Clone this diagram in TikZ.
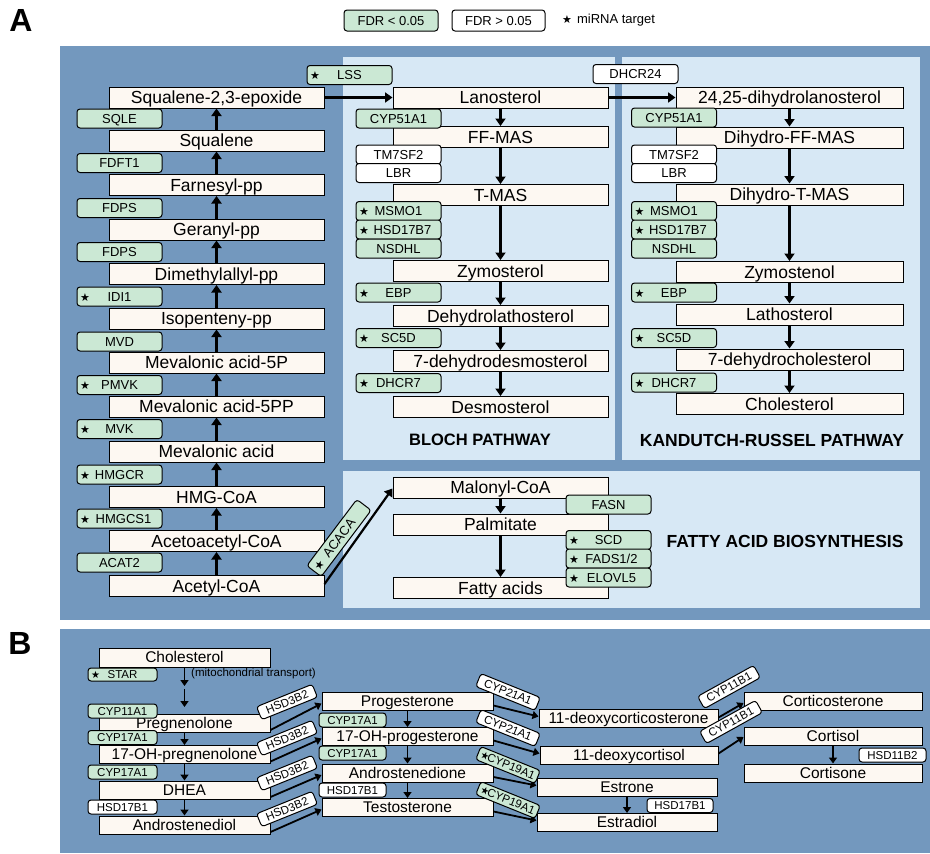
\documentclass[tikz,border=0pt]{standalone}
\usepackage{fontspec}
\setmainfont{Liberation Sans}
\newfontfamily\symfont{DejaVu Sans}
\usetikzlibrary{arrows.meta,calc}
\definecolor{darkbg}{HTML}{7398BE}
\definecolor{lightbg}{HTML}{D7E8F5}
\definecolor{cream}{HTML}{FDF8F2}
\definecolor{sig}{HTML}{CBE8D4}
\newcommand\stx[3][11]{\makebox[#2][l]{\hspace{2pt}{\symfont\fontsize{#1}{#1}\selectfont ★}}\llap{\makebox[#2][c]{#3}}}
\begin{document}
\begin{tikzpicture}[x=1pt,y=-1pt,
  met/.style={draw=black,line width=1pt,fill=cream,inner sep=0pt,minimum height=21pt,
    font=\fontsize{17.5}{17.5}\selectfont,text height=12.6pt,text depth=0.6pt},
  wA/.style={minimum width=215pt},
  wK/.style={minimum width=227pt},
  enz/.style={draw=black,line width=1pt,rounded corners=3pt,fill=sig,inner sep=0pt,
    minimum width=85pt,minimum height=19pt,font=\fontsize{13}{13}\selectfont,
    text height=9.4pt,text depth=0.4pt},
  enzw/.style={enz,fill=white},
  metB/.style={met,minimum height=18pt,minimum width=171pt,font=\fontsize{15.5}{15.5}\selectfont,
    text height=11.2pt,text depth=0.5pt},
  enzB/.style={enz,minimum width=68pt,minimum height=14pt,font=\fontsize{11.5}{11.5}\selectfont,
    text height=8.3pt,text depth=0.3pt},
  enzBw/.style={enzB,fill=white},
  arrA/.style={-{Triangle[length=7.5pt,width=10pt]},line width=2.2pt},
  arrB/.style={-{Triangle[length=6pt,width=8pt]},line width=1.8pt},
  title/.style={font=\fontsize{17.5}{17.5}\selectfont\bfseries},
  panlab/.style={font=\fontsize{32}{32}\selectfont\bfseries}
]
\useasboundingbox (0,0) rectangle (930,854);
\fill[white] (0,0) rectangle (930,854);

% panel labels and legend
\node[panlab] (labA) at (21,20) {A};
\node[panlab] (labB) at (20,643) {B};
\node[enz,minimum width=94pt,minimum height=21pt] (leg1) at (391,20.5) {FDR < 0.05};
\node[enzw,minimum width=93pt,minimum height=21pt] (leg2) at (498.5,20.5) {FDR > 0.05};
\node[anchor=west,inner sep=0pt,font=\fontsize{13}{13}\selectfont] (leg3) at (562,20.5) {{\symfont\fontsize{11}{11}\selectfont ★}\hspace{5pt}miRNA target};

% backgrounds
\fill[darkbg] (60,46) rectangle (930,620);
\fill[lightbg] (343,57) rectangle (615,460);
\fill[lightbg] (622,57) rectangle (920,460);
\fill[lightbg] (343,471) rectangle (920,608);
\fill[darkbg] (60,629) rectangle (930,853);

% ---------- mevalonate column ----------
\node[met,wA] (sqe) at (216.5,97.5) {Squalene-2,3-epoxide};
\node[met,wA] (sq) at (216.5,140.5) {Squalene};
\node[met,wA] (fpp) at (216.5,185) {Farnesyl-pp};
\node[met,wA] (gpp) at (216.5,229.5) {Geranyl-pp};
\node[met,wA] (dmapp) at (216.5,274) {Dimethylallyl-pp};
\node[met,wA] (ipp) at (216.5,318.5) {Isopenteny-pp};
\node[met,wA] (mva5p) at (216.5,362.5) {Mevalonic acid-5P};
\node[met,wA] (mva5pp) at (216.5,406.5) {Mevalonic acid-5PP};
\node[met,wA] (mva) at (216.5,451.5) {Mevalonic acid};
\node[met,wA] (hmg) at (216.5,497) {HMG-CoA};
\node[met,wA] (aac) at (216.5,541) {Acetoacetyl-CoA};
\node[met,wA] (acc) at (216.5,586) {Acetyl-CoA};
\foreach \a/\b in {acc/aac,aac/hmg,hmg/mva,mva/mva5pp,mva5pp/mva5p,mva5p/ipp,ipp/dmapp,dmapp/gpp,gpp/fpp,fpp/sq,sq/sqe}
  \draw[arrA] (\a) -- (\b);
\node[enz] (sqle) at (119.5,118.5) {SQLE};
\node[enz] (fdft1) at (119.5,163) {FDFT1};
\node[enz] (fdps1) at (119.5,208) {FDPS};
\node[enz] (fdps2) at (119.5,252) {FDPS};
\node[enz] (idi1) at (119.5,296.5) {\stx{83pt}{IDI1}};
\node[enz] (mvd) at (119.5,341.5) {MVD};
\node[enz] (pmvk) at (119.5,385) {\stx{83pt}{PMVK}};
\node[enz] (mvk) at (119.5,429) {\stx{83pt}{MVK}};
\node[enz] (hmgcr) at (119.5,474.5) {\stx{83pt}{HMGCR}};
\node[enz] (hmgcs1) at (119.5,518.5) {\stx{83pt}{\hspace{8pt}HMGCS1}};
\node[enz] (acat2) at (119.5,562.5) {ACAT2};

% ---------- Bloch ----------
\node[met,wA] (lan) at (500.5,97.5) {Lanosterol};
\node[met,wA] (ffmas) at (500.5,137) {FF-MAS};
\node[met,wA] (tmas) at (500.5,195) {T-MAS};
\node[met,wA] (zym) at (500.5,271) {Zymosterol};
\node[met,wA] (dhlath) at (500.5,316) {Dehydrolathosterol};
\node[met,wA] (dhdes) at (500.5,361) {7-dehydrodesmosterol};
\node[met,wA] (des) at (500.5,407) {Desmosterol};
\foreach \a/\b in {lan/ffmas,ffmas/tmas,tmas/zym,zym/dhlath,dhlath/dhdes,dhdes/des}
  \draw[arrA] (\a) -- (\b);
\draw[arrA] (sqe) -- (lan);
\node[enz] (lss) at (349.5,75) {\stx{83pt}{LSS}};
\node[enz] (cyp51b) at (398.5,118.5) {CYP51A1};
\node[enzw] (tm7b) at (398.5,154.5) {TM7SF2};
\node[enzw] (lbrb) at (398.5,173) {LBR};
\node[enz] (msmob) at (398.5,211) {\stx{83pt}{MSMO1}};
\node[enz] (hsdb) at (398.5,229.5) {\stx{83pt}{\hspace{8pt}HSD17B7}};
\node[enz] (nsdhlb) at (398.5,248.5) {NSDHL};
\node[enz] (ebpb) at (398.5,292.5) {\stx{83pt}{EBP}};
\node[enz] (sc5db) at (398.5,338) {\stx{83pt}{SC5D}};
\node[enz] (dhcr7b) at (398.5,383) {\stx{83pt}{DHCR7}};
\node[title,font=\fontsize{16.5}{16.5}\selectfont\bfseries] (bloch) at (480,440) {BLOCH PATHWAY};

% ---------- Kandutch-Russel ----------
\node[met,wK] (dhlan) at (789.5,97.5) {24,25-dihydrolanosterol};
\node[met,wK] (dhff) at (789.5,137.5) {Dihydro-FF-MAS};
\node[met,wK] (dhtmas) at (789.5,194.5) {Dihydro-T-MAS};
\node[met,wK] (zymn) at (789.5,272) {Zymostenol};
\node[met,wK] (lath) at (789.5,314.5) {Lathosterol};
\node[met,wK] (dhc) at (789.5,359.5) {7-dehydrocholesterol};
\node[met,wK] (chol) at (789.5,404) {Cholesterol};
\foreach \a/\b in {dhlan/dhff,dhff/dhtmas,dhtmas/zymn,zymn/lath,lath/dhc,dhc/chol}
  \draw[arrA] (\a) -- (\b);
\draw[arrA] (lan) -- (dhlan);
\node[enzw] (dhcr24) at (635.5,74) {DHCR24};
\node[enz] (cyp51k) at (674,117.5) {CYP51A1};
\node[enzw] (tm7k) at (674,154.5) {TM7SF2};
\node[enzw] (lbrk) at (674,173) {LBR};
\node[enz] (msmok) at (674,211) {\stx{83pt}{MSMO1}};
\node[enz] (hsdk) at (674,229.5) {\stx{83pt}{\hspace{8pt}HSD17B7}};
\node[enz] (nsdhlk) at (674,248.5) {NSDHL};
\node[enz] (ebpk) at (674,292.5) {\stx{83pt}{EBP}};
\node[enz] (sc5dk) at (674,338) {\stx{83pt}{SC5D}};
\node[enz] (dhcr7k) at (674,382.5) {\stx{83pt}{DHCR7}};
\node[title] (kr) at (772,440) {KANDUTCH-RUSSEL PATHWAY};

% ---------- fatty acids ----------
\node[met,wA] (malo) at (500.5,487.5) {Malonyl-CoA};
\node[met,wA] (palm) at (500.5,524.5) {Palmitate};
\node[met,wA] (fa) at (500.5,588) {Fatty acids};
\draw[arrA] (malo) -- (palm);
\draw[arrA] (palm) -- (fa);
\draw[arrA] ([yshift=2pt]acc.east) -- ([yshift=-1pt]malo.west);
\node[enz,rotate=53,minimum width=83pt,minimum height=18pt] (acaca) at (339,538) {\stx{81pt}{ACACA}};
\node[enz] (fasn) at (608.5,504.5) {FASN};
\node[enz] (scd) at (608.5,540) {\stx{83pt}{SCD}};
\node[enz] (fads) at (608.5,558.5) {\stx{83pt}{\hspace{6pt}FADS1/2}};
\node[enz] (elovl) at (608.5,577.5) {\stx{83pt}{\hspace{6pt}ELOVL5}};
\node[title] (fab) at (785,541) {FATTY ACID BIOSYNTHESIS};

% ---------- panel B ----------
\node[metB,minimum height=19pt] (chB) at (184.5,657.5) {Cholesterol};
\node[metB] (preg) at (184.5,723) {Pregnenolone};
\node[metB] (ohpreg) at (184.5,754.5) {17-OH-pregnenolone};
\node[metB] (dhea) at (184.5,790) {DHEA};
\node[metB] (adiol) at (184.5,825) {Androstenediol};
\node[metB] (prog) at (407.5,701.5) {Progesterone};
\node[metB] (ohprog) at (407.5,736.5) {17-OH-progesterone};
\node[metB] (andro) at (407.5,773) {Androstenedione};
\node[metB] (testo) at (407.5,807.5) {Testosterone};
\node[metB,minimum width=179pt] (doc) at (628.5,718.5) {11-deoxycorticosterone};
\node[metB,minimum width=178pt] (dcortisol) at (629,755.5) {11-deoxycortisol};
\node[metB,minimum width=180pt] (estrone) at (627,787.5) {Estrone};
\node[metB,minimum width=180pt] (estradiol) at (627,822.5) {Estradiol};
\node[metB,minimum width=178pt] (corticost) at (833,701.5) {Corticosterone};
\node[metB,minimum width=178pt] (cortisol) at (833,736) {Cortisol};
\node[metB,minimum width=178pt] (cortisone) at (833,773) {Cortisone};

\coordinate (t1e) at (184.5,686);
\coordinate (t2s) at (184.5,689);
\coordinate (t2e) at (184.5,707);
\draw[arrB] (chB) -- (t1e);
\draw[arrB] (t2s) -- (t2e);
\foreach \a/\b in {preg/ohpreg,ohpreg/dhea,dhea/adiol,prog/ohprog,ohprog/andro,andro/testo,estrone/estradiol,cortisol/cortisone}
  \draw[arrB] (\a) -- (\b);
\foreach \a/\b in {preg/prog,ohpreg/ohprog,dhea/andro,adiol/testo}
  \draw[arrB] ([yshift=2.5pt]\a.south east) -- ([yshift=-2pt]\b.west);
\foreach \a/\b in {prog/doc,ohprog/dcortisol,andro/estrone,testo/estradiol}
  \draw[arrB] ([yshift=-4pt]\a.east) -- ([yshift=2pt]\b.west);
\draw[arrB] ([yshift=1pt]doc.east) -- ([yshift=-1.5pt]corticost.west);
\draw[arrB] ([yshift=2pt]dcortisol.east) -- ([yshift=-1pt]cortisol.west);

\node[enzB,minimum width=69pt,minimum height=13pt] (star) at (122.5,674.5) {\stx[10]{67pt}{STAR}};
\node[anchor=west,inner sep=0pt,font=\fontsize{11.5}{11.5}\selectfont] (mito) at (191,674) {(mitochondrial transport)};
\node[enzB,minimum width=69pt] (cyp11a1) at (122.5,711) {CYP11A1};
\node[enzB,minimum width=69pt] (cyp17a) at (122.5,737.5) {CYP17A1};
\node[enzB,minimum width=69pt] (cyp17b) at (122.5,772) {CYP17A1};
\node[enzBw,minimum width=69pt] (hsd17a) at (122.5,807) {HSD17B1};
\node[enzB,minimum width=67pt] (cyp17c) at (352.5,720) {CYP17A1};
\node[enzB,minimum width=67pt] (cyp17d) at (352.5,753) {CYP17A1};
\node[enzBw,minimum width=67pt] (hsd17b) at (352.5,790) {HSD17B1};
\node[enzBw,minimum width=66pt] (hsd17c) at (680,805.5) {HSD17B1};
\node[enzBw,minimum width=67pt] (hsd11b2) at (892.5,755) {HSD11B2};
\foreach \n/\y in {h1/702,h2/738,h3/773,h4/809}
  \node[enzBw,rotate=22,minimum width=60pt] (\n) at (287,\y) {HSD3B2};
\node[enzBw,rotate=-22,minimum width=64pt] (c21a) at (508,692) {CYP21A1};
\node[enzBw,rotate=-22,minimum width=64pt] (c21b) at (508,728) {CYP21A1};
\node[enzB,rotate=-22,minimum width=64pt] (c19a) at (508,765) {\stx[10]{62pt}{\hspace{7pt}CYP19A1}};
\node[enzB,rotate=-22,minimum width=64pt] (c19b) at (508,800) {\stx[10]{62pt}{\hspace{7pt}CYP19A1}};
\node[enzBw,rotate=29,minimum width=64pt] (c11a) at (729,687) {CYP11B1};
\node[enzBw,rotate=29,minimum width=64pt] (c11b) at (731,722) {CYP11B1};
\end{tikzpicture}
\end{document}
